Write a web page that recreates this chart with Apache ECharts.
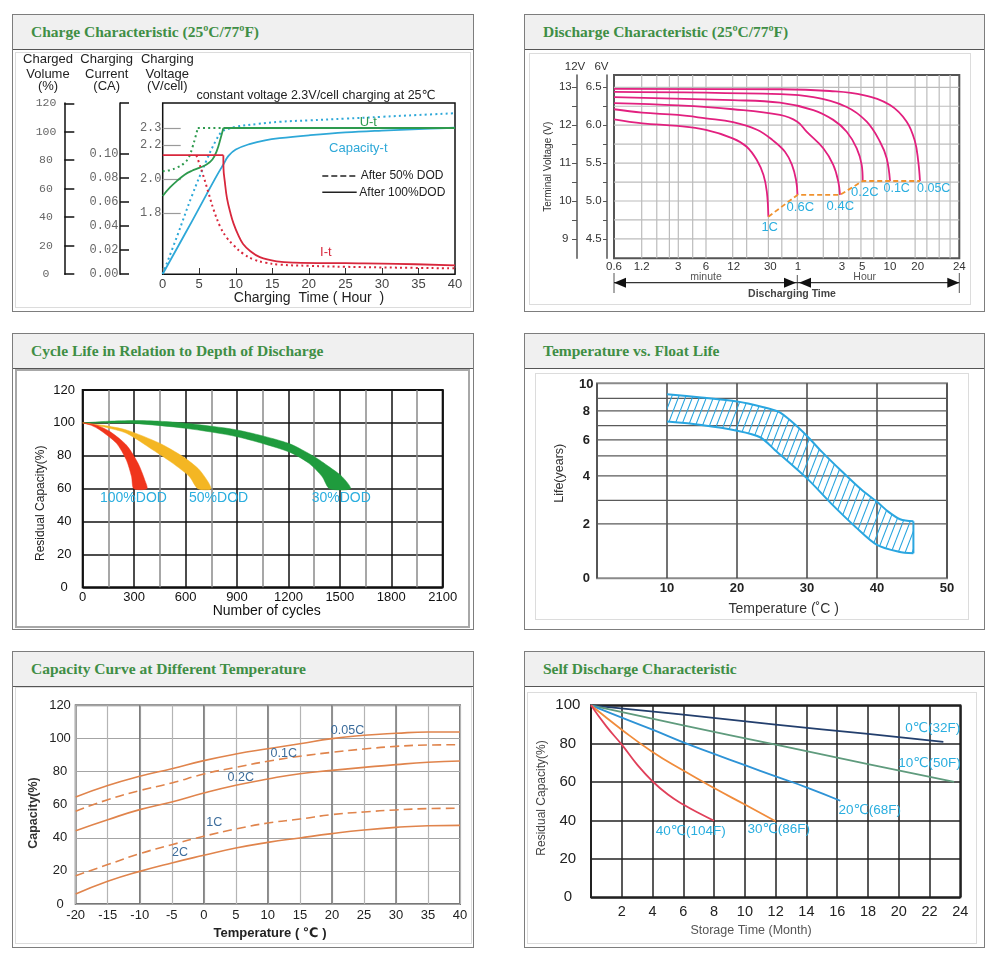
<!DOCTYPE html>
<html><head><meta charset="utf-8">
<script src="https://cdn.jsdelivr.net/npm/echarts@6.0.0/dist/echarts.min.js"></script>
<style>
html,body{margin:0;padding:0;background:#fff;width:1000px;height:963px;overflow:hidden;}
.panel{position:absolute;border:1px solid #7d7d7d;box-sizing:border-box;background:#fff;}
.hdr{position:absolute;left:0;top:0;right:0;height:35px;background:#f0f0f0;border-bottom:1.5px solid #555;box-sizing:border-box;}
.hdr span{position:absolute;left:18px;top:8px;font-family:'Liberation Serif','Times New Roman',serif;font-weight:bold;font-size:15.5px;color:#3f8e45;white-space:nowrap;}
.inner{position:absolute;box-sizing:border-box;border:1px solid #dcdcdc;}
#chart{position:absolute;left:0;top:0;width:1000px;height:963px;z-index:5;}
</style></head><body>
<div class="panel" style="left:12px;top:14px;width:462px;height:298px"><div class="hdr"><span>Charge Characteristic (25ºC/77ºF)</span></div></div>
<div class="panel" style="left:524px;top:14px;width:461px;height:298px"><div class="hdr"><span>Discharge Characteristic (25ºC/77ºF)</span></div></div>
<div class="panel" style="left:12px;top:333px;width:462px;height:297px"><div class="hdr"><span>Cycle Life in Relation to Depth of Discharge</span></div></div>
<div class="panel" style="left:524px;top:333px;width:461px;height:297px"><div class="hdr"><span>Temperature vs. Float Life</span></div></div>
<div class="panel" style="left:12px;top:651px;width:462px;height:297px"><div class="hdr"><span>Capacity Curve at Different Temperature</span></div></div>
<div class="panel" style="left:524px;top:651px;width:461px;height:297px"><div class="hdr"><span>Self Discharge Characteristic</span></div></div>
<div class="inner" style="left:15px;top:52px;width:456px;height:256px"></div>
<div class="inner" style="left:529px;top:53px;width:442px;height:252px"></div>
<div class="inner" style="left:15px;top:369px;width:455px;height:259px;border:2px solid #a8a8a8"></div>
<div class="inner" style="left:535px;top:373px;width:434px;height:247px"></div>
<div class="inner" style="left:15px;top:687px;width:457px;height:257px"></div>
<div class="inner" style="left:527px;top:692px;width:450px;height:252px"></div>
<div id="chart"></div>
<script>
// ================= DATA =================
// Chart 1: Charge characteristic  [hour, value]
const chgUtSolid   = [[0,1.90],[1,1.95],[2,1.99],[3,2.025],[4,2.048],[5,2.065],[6,2.085],[6.8,2.115],[7.4,2.165],[7.9,2.235],[8.3,2.3],[40,2.3]];
const chgUtDotted  = [[0,2.045],[1,2.052],[2,2.068],[3,2.095],[3.6,2.13],[4.1,2.19],[4.5,2.25],[4.8,2.3],[8.3,2.3]];
const chgCapSolid  = [[0,0],[2,18.5],[4,37],[6,56],[7.5,70],[8.3,77],[9,83],[10,87.5],[12,91.5],[14,94],[16,95.5],[20,97.5],[25,99.5],[30,100.8],[35,101.8],[40,102.8]];
const chgCapDotted = [[0,0],[2,27],[4,55],[6,80],[7.3,94],[8.1,100],[9,102],[10,103.5],[13,105.5],[16,107],[20,108],[25,109.2],[30,110.5],[35,111.8],[40,113]];
const chgItSolid   = [[0,0.099],[8.3,0.099],[8.32,0.088],[8.5,0.077],[8.8,0.063],[9.3,0.05],[9.7,0.042],[10.3,0.033],[11,0.025],[12,0.019],[13.3,0.014],[15.6,0.0106],[18,0.0095],[25,0.009],[32,0.0085],[40,0.0072]];
const chgItDotted  = [[4.6,0.099],[4.9,0.094],[5.5,0.083],[6.2,0.069],[7,0.053],[7.9,0.039],[8.8,0.03],[9.7,0.024],[11,0.017],[12.5,0.012],[14,0.0095],[16,0.0078],[20,0.0068],[25,0.006],[32,0.0053],[40,0.0047]];
const chgVoltTicks = [1.8,2.0,2.2,2.3];
const chgCurrTicks = [0,0.02,0.04,0.06,0.08,0.10];
const chgVolTicks  = [0,20,40,60,80,100,120];

// Chart 2: Discharge characteristic  [minutes, V per 6V block]
const dch1C   = [[0.6,6.078],[1.22,6.025],[2.96,5.99],[5.98,5.937],[11.7,5.827],[16.6,5.716],[21.4,5.541],[25.3,5.343],[27.5,5.123],[28.6,4.793]];
const dch06C  = [[0.6,6.21],[1.21,6.165],[2.97,6.135],[5.98,6.09],[11.8,6.04],[21.5,5.94],[32,5.80],[43.3,5.65],[51.5,5.48],[57.1,5.28],[59.3,5.08]];
const dch04C  = [[0.6,6.29],[3,6.26],[11.8,6.21],[38.2,6.135],[59,6.046],[74.4,5.914],[113,5.695],[145,5.475],[164.5,5.255],[171.7,5.08]];
const dch02C  = [[0.6,6.37],[11.7,6.33],[38.2,6.297],[88,6.2],[145,6.07],[203,5.914],[261,5.695],[295.5,5.475],[303,5.264]];
const dch01C  = [[0.6,6.44],[38.2,6.41],[88,6.37],[203,6.24],[335,6.046],[467,5.782],[552,5.563],[600,5.264]];
const dch005C = [[0.6,6.478],[38.2,6.474],[133,6.451],[308,6.398],[600,6.266],[911,6.046],[1123,5.782],[1218,5.518],[1271,5.264]];
const dchCutoff = [[28.6,4.793],[59.3,5.08],[171.7,5.08],[303,5.264],[1271,5.264]];
const dchRateLabels = ['1C','0.6C','0.4C','0.2C','0.1C','0.05C'];
const dchMaxMin = 3400;
const dchTickValues = [0.6,1.2,3,6,12,30,60,180,300,600,1200,3400];
const dchTickLabels = ['0.6','1.2','3','6','12','30','1','3','5','10','20','24'];
const dchGridMin = [1.2,1.75,2.4,3,4.3,6,11.7,16.6,28.6,40,59,113,166,214,290,400,554,1125,1510,2055,2700];
const dchV6Ticks = [4.5,5.0,5.5,6.0,6.5];
const dchV6Minor = [4.5,4.75,5.0,5.25,5.5,5.75,6.0,6.25,6.5];
const dchV12Ticks = [9,10,11,12,13];
const dchV12Minor = [9,9.5,10,10.5,11,11.5,12,12.5,13];

// Chart 3: Cycle life  [cycles, residual %]
const cycRedOuter = [[0,100],[80,98.6],[159,94.7],[255,86.5],[323,75.4],[362,65.3],[375,60]];
const cycRedInner = [[0,100],[50,98.5],[100,95.7],[197,87.6],[255,77.4],[285,67.3],[298,60]];
const cycYelOuter = [[0,100],[120,98.5],[255,95.7],[449,87.6],[584,79.5],[681,71.4],[749,60]];
const cycYelInner = [[0,100],[120,97.6],[255,93.7],[410,83.5],[526,75.4],[623,67.3],[672,60]];
const cycGrnOuter = [[0,100],[150,101],[300,101.4],[450,101],[600,99.8],[900,95.7],[1200,87.6],[1350,79.5],[1436,73.4],[1513,67.3],[1562,60]];
const cycGrnInner = [[0,100],[150,100],[300,99.7],[600,96.7],[900,91.6],[1200,82.5],[1320,75.4],[1397,67.3],[1440,60]];
const cycDodLabels = ['100%DOD','50%DOD','30%DOD'];

// Chart 4: Temperature vs float life  [°C, years]
const floatUpper = [[10,9.28],[14.9,9.05],[20,8.74],[23.5,8.34],[25.9,7.95],[27.8,7.28],[30,6.28],[32.1,5.27],[35,4.22],[37.8,3.43],[40,2.94],[41.6,2.52],[43.3,2.2],[45.2,2.11]];
const floatLower = [[10,7.28],[14.9,7.05],[20,6.65],[23.3,6.19],[25.4,5.38],[30,3.90],[33.5,2.85],[36.9,1.90],[40,1.23],[43.1,0.98],[45.2,0.92]];
const lifeScaleVals = [0,2,3,4,5,6,7,8,9,10];          // the axis of the original is not linear
const lifeScalePos  = [0,163,234,307,367,415,458,502,540,583];
const lifeLabels    = [0,2,4,6,8,10];
const lifeGridVals  = [2,3,4,5,6,7,8,9];

// Chart 5: Capacity vs temperature  [°C] -> %
const capTemps = [-20,-15,-10,-5,0,5,10,15,20,25,30,35,40];
const cap005C = [64.6,71.5,77.1,81.7,86.6,90.6,93.8,96.8,99.9,101.9,103.1,103.9,103.9];
const cap01C  = [56,63,68.5,73.1,78.5,82.5,86.2,89.2,91.6,93.6,95.2,96,96.2];
const cap02C  = [44.3,50.9,57,61.6,67,71.7,75.5,78.7,80.7,82.5,84.2,85.6,86.4];
const cap1C   = [17.1,23.8,30.4,35.8,40.9,45.3,48.9,51.3,54,55.6,56.8,57.6,57.8];
const cap2C   = [6,13.7,19.7,24.8,29.4,33.8,37.2,39.9,42.5,44.7,46.3,47.3,47.5];
const capMajorTemps = [-10,0,10,20,30];
const capRateLabels = ['0.05C','0.1C','0.2C','1C','2C'];

// Chart 6: Self discharge  [month, %]
const sd0C  = [[0,100],[6,95.1],[12,89.9],[18,85.1],[22.9,80.9]];
const sd10C = [[0,100],[6,89.6],[12,79.5],[18,69.4],[23.6,60.1]];
const sd20C = [[0,100],[2,93.6],[4,87.3],[6,80.7],[8,74.7],[10,68.8],[12,63],[14,57.3],[16.2,50.3]];
const sd30C = [[0,100],[2,87.3],[4,75.7],[6,66],[8,56.9],[10,48.3],[12,39.6]];
const sd40C = [[0,100],[1,89],[2,79.5],[3,69.1],[4,60.4],[5,53.5],[6,48.3],[7,43.9],[8,39.9]];
const sdLabels = ['0℃(32F)','10℃(50F)','20℃(68F)','30℃(86F)','40℃(104F)'];

// ================= HELPERS =================
function lifePos(l){
  for (let i=1;i<lifeScaleVals.length;i++){
    if (l <= lifeScaleVals[i]){
      const a=lifeScaleVals[i-1], b=lifeScaleVals[i];
      return lifeScalePos[i-1] + (l-a)/(b-a)*(lifeScalePos[i]-lifeScalePos[i-1]);
    }
  }
  const n=lifeScaleVals.length-1;
  return lifeScalePos[n] + (l-lifeScaleVals[n])*(lifeScalePos[n]-lifeScalePos[n-1])/(lifeScaleVals[n]-lifeScaleVals[n-1]);
}
const lifeLabelPos = lifeLabels.map(lifePos);

function L(xi, yi, data, color, width, dash, smooth){
  return {type:'line', xAxisIndex:xi, yAxisIndex:yi, data:data, showSymbol:false, symbol:'none', silent:true,
    smooth: smooth||false, z:4, animation:false,
    lineStyle:{color:color, width:width, type: dash||'solid', cap:'butt', join:'round'}};
}
function gridLines(xi, yi, xs, ys, xr, yr, color, width){
  return {type:'custom', xAxisIndex:xi, yAxisIndex:yi, z:1, silent:true, animation:false, data:[[xr[0], yr[0]]],
    renderItem:function(params, api){
      const ch=[];
      xs.forEach(function(v){ const a=api.coord([v,yr[0]]), b=api.coord([v,yr[1]]);
        ch.push({type:'line', shape:{x1:a[0],y1:a[1],x2:b[0],y2:b[1]}, style:{stroke:color, lineWidth:width}}); });
      ys.forEach(function(v){ const a=api.coord([xr[0],v]), b=api.coord([xr[1],v]);
        ch.push({type:'line', shape:{x1:a[0],y1:a[1],x2:b[0],y2:b[1]}, style:{stroke:color, lineWidth:width}}); });
      return {type:'group', children:ch};
    }};
}
function bandSeries(xi, yi, outer, inner, fill){
  return {type:'custom', xAxisIndex:xi, yAxisIndex:yi, z:3, silent:true, animation:false, data:[outer[0]],
    renderItem:function(params, api){
      const pts = outer.concat(inner.slice().reverse()).map(function(q){return api.coord(q);});
      return {type:'polygon', shape:{points:pts, smooth:0.25}, style:{fill:fill, stroke:fill, lineWidth:0.5}};
    }};
}
function makeHatch(){
  const c=document.createElement('canvas'); c.width=7; c.height=18;
  const g=c.getContext('2d'); g.strokeStyle='#2aa6e0'; g.lineWidth=1.1; g.beginPath();
  for (let k=-1;k<=1;k++){ g.moveTo(k*7,18); g.lineTo(k*7+7,0); }
  g.stroke(); return c;
}
const hatch = makeHatch();

function T(text,x,y,o){
  o=o||{};
  const al=o.align||'center';
  return {type:'text', x:x, y:y, rotation:o.rot?o.rot*Math.PI/180:0, silent:true, z:100,
    style:{text:text, fill:o.color||'#222',
      font:(o.weight||'normal')+' '+(o.size||12)+"px '"+(o.family||'Liberation Sans')+"', 'DejaVu Sans', sans-serif",
      align:al, verticalAlign:'middle', textAlign:al, textVerticalAlign:'middle'}};
}
function GL(x1,y1,x2,y2,color,w,dash){
  return {type:'line', silent:true, z:100, shape:{x1:x1,y1:y1,x2:x2,y2:y2}, style:{stroke:color, lineWidth:w, lineDash:dash||null}};
}
function TRI(pts,color){ return {type:'polygon', silent:true, z:100, shape:{points:pts}, style:{fill:color}}; }

// ================= COLOURS =================
const cGreen='#2e9a4e', cCyan='#2ea8d8', cRed='#d8273c';
const cPink='#e2207f', cOrange='#f0922e';
const cCap='#e0844c';
const lblCyan='#2aaedf';

// ================= OPTION =================
const noLine={show:false};
const xAxis=[
  {gridIndex:0, type:'value', min:0, max:40, interval:5, axisLine:noLine,
    axisTick:{show:true, inside:true, length:6, lineStyle:{color:'#333', width:1}},
    axisLabel:{color:'#444', fontSize:13, margin:4}, splitLine:{show:false}},
  {gridIndex:1, type:'log', logBase:10, min:0.6, max:dchMaxMin, axisLine:noLine, axisTick:{show:false},
    axisLabel:{customValues:dchTickValues, color:'#333', fontSize:11.5, margin:3,
      formatter:function(v){ let best=0; dchTickValues.forEach(function(t,i){ if (Math.abs(Math.log(t)-Math.log(v)) < Math.abs(Math.log(dchTickValues[best])-Math.log(v))) best=i; }); return dchTickLabels[best]; }},
    splitLine:{show:false}, minorSplitLine:{show:false}, minorTick:{show:false}},
  {gridIndex:2, type:'value', min:0, max:2100, interval:300, axisLine:noLine, axisTick:{show:false},
    axisLabel:{color:'#111', fontSize:13, margin:4, formatter:function(v){return String(v);}},
    splitLine:{show:true, lineStyle:{color:'#111', width:1.5}},
    minorTick:{show:false, splitNumber:2}, minorSplitLine:{show:true, lineStyle:{color:'#8a8a8a', width:1.5}}},
  {gridIndex:3, type:'value', min:0, max:50, interval:10, axisLine:noLine, axisTick:{show:false},
    axisLabel:{color:'#222', fontSize:13, fontWeight:'bold', margin:4, formatter:function(v){return v===0?'':String(v);}},
    splitLine:{show:true, lineStyle:{color:'#444', width:1.5}}},
  {gridIndex:4, type:'value', min:-20, max:40, interval:5, axisLine:noLine, axisTick:{show:false},
    axisLabel:{color:'#222', fontSize:13, margin:5},
    splitLine:{show:true, lineStyle:{color:'#b4b4b4', width:1.2}}},
  {gridIndex:5, type:'value', min:0, max:24, interval:2, axisLine:noLine, axisTick:{show:false},
    axisLabel:{color:'#222', fontSize:14.5, margin:7, formatter:function(v){return v===0?'':String(v);}},
    splitLine:{show:true, lineStyle:{color:'#222', width:1.5}}}
];
const monoLbl = {color:'#666', fontFamily:'Liberation Mono', fontSize:12, align:'center'};
const yAxis=[
  {gridIndex:0, type:'value', min:1.439, max:2.447, position:'left', axisLine:noLine,
    axisTick:{show:true, inside:true, length:18, customValues:chgVoltTicks, lineStyle:{color:'#9a9a9a', width:1.2}},
    axisLabel:Object.assign({customValues:chgVoltTicks, margin:12, formatter:function(v){return v.toFixed(1);}}, monoLbl),
    splitLine:{show:false}},
  {gridIndex:0, type:'value', min:-0.00025, max:0.1425, position:'left', offset:42.7,
    axisLine:{show:true, lineStyle:{color:'#111', width:1.5}},
    axisTick:{show:true, inside:true, length:9, customValues:chgCurrTicks.concat([0.1425]), lineStyle:{color:'#111', width:1.5}},
    axisLabel:Object.assign({customValues:chgCurrTicks, margin:16, formatter:function(v){return v.toFixed(2);}}, monoLbl),
    splitLine:{show:false}},
  {gridIndex:0, type:'value', min:-0.2, max:120.2, position:'left', offset:98.4,
    axisLine:{show:true, lineStyle:{color:'#111', width:1.5}},
    axisTick:{show:true, inside:true, length:10, customValues:chgVolTicks, lineStyle:{color:'#111', width:1.5}},
    axisLabel:Object.assign({customValues:chgVolTicks, margin:18.3}, monoLbl, {fontSize:11.5}),
    splitLine:{show:false}},
  {gridIndex:1, type:'value', min:4.244, max:6.662, position:'left', offset:7,
    axisLine:{show:true, lineStyle:{color:'#555', width:1.5}},
    axisTick:{show:true, length:4, customValues:dchV6Minor, lineStyle:{color:'#555', width:1}},
    axisLabel:{customValues:dchV6Ticks, margin:13.3, align:'center', color:'#333', fontSize:11.5, formatter:function(v){return v.toFixed(1);}},
    splitLine:{show:false}},
  {gridIndex:1, type:'value', min:8.488, max:13.324, position:'left', offset:37,
    axisLine:{show:true, lineStyle:{color:'#555', width:1.5}},
    axisTick:{show:true, length:5, customValues:dchV12Minor, lineStyle:{color:'#555', width:1}},
    axisLabel:{customValues:dchV12Ticks, margin:11.7, align:'center', color:'#333', fontSize:11.5},
    splitLine:{show:false}},
  {gridIndex:2, type:'value', min:0, max:120, interval:20, axisLine:noLine, axisTick:{show:false},
    axisLabel:{align:'center', margin:18.5, fontSize:13, color:'#111'},
    splitLine:{show:true, lineStyle:{color:'#111', width:1.5}}},
  {gridIndex:3, type:'value', min:0, max:585, axisLine:noLine, axisTick:{show:false},
    axisLabel:{customValues:lifeLabelPos, align:'center', margin:10.7, fontSize:13, fontWeight:'bold', color:'#222',
      formatter:function(v){ const i=lifeLabelPos.findIndex(function(p){return Math.abs(p-v)<0.5;}); return i>=0?String(lifeLabels[i]):''; }},
    splitLine:{show:false}},
  {gridIndex:4, type:'value', min:0, max:120, interval:20, axisLine:noLine, axisTick:{show:false},
    axisLabel:{align:'center', margin:15.7, fontSize:13, color:'#222'},
    splitLine:{show:true, lineStyle:{color:'#a4a4a4', width:1.2}}},
  {gridIndex:5, type:'value', min:0, max:100, interval:20, axisLine:noLine, axisTick:{show:false},
    axisLabel:{align:'center', margin:23.2, fontSize:15, color:'#222'},
    splitLine:{show:true, lineStyle:{color:'#222', width:1.5}}}
];

const series=[];
// grid lines drawn through the axes
series.push(gridLines(1,3,dchGridMin,dchV6Minor,[0.6,dchMaxMin],[4.244,6.662],'#bcbcbc',1.2));
series.push(gridLines(3,6,[],lifeGridVals.map(lifePos),[0,50],[0,585],'#5a5a5a',1.3));
series.push(gridLines(4,7,capMajorTemps,[],[-20,40],[0,120],'#707070',1.3));

// chart 1
const utI = chgUtSolid.findIndex(function(p){return p[1]>=2.3;});
const utdI = chgUtDotted.findIndex(function(p){return p[1]>=2.3;});
const dot=[2,3.2];
series.push(L(0,2,chgCapDotted,cCyan,2,dot,0.4));
series.push(L(0,2,chgCapSolid,cCyan,1.8,'solid',0.4));
series.push(L(0,0,chgUtDotted.slice(0,utdI+1),cGreen,2,dot,0.4));
series.push(L(0,0,chgUtDotted.slice(utdI),cGreen,2,dot,false));
series.push(L(0,0,chgUtSolid.slice(0,utI+1),cGreen,1.8,'solid',0.4));
series.push(L(0,0,chgUtSolid.slice(utI),cGreen,1.8,'solid',false));
series.push(L(0,1,chgItDotted,cRed,2,dot,0.4));
series.push(L(0,1,chgItSolid.slice(0,2),cRed,1.8,'solid',false));
series.push(L(0,1,chgItSolid.slice(1),cRed,1.8,'solid',0.4));

// chart 2
[dch1C,dch06C,dch04C,dch02C,dch01C,dch005C].forEach(function(d){ series.push(L(1,3,d,cPink,1.8,'solid',0.4)); });
series.push(L(1,3,dchCutoff,cOrange,1.8,[5,3],false));

// chart 3
series.push(bandSeries(2,5,cycGrnOuter,cycGrnInner,'#1f9b3d'));
series.push(bandSeries(2,5,cycYelOuter,cycYelInner,'#f4b623'));
series.push(bandSeries(2,5,cycRedOuter,cycRedInner,'#f0351c'));

// chart 4
series.push({type:'custom', xAxisIndex:3, yAxisIndex:6, z:3, silent:true, animation:false,
  data:[[floatUpper[0][0], lifePos(floatUpper[0][1])]],
  renderItem:function(params, api){
    const up=floatUpper.map(function(q){return api.coord([q[0], lifePos(q[1])]);});
    const lo=floatLower.map(function(q){return api.coord([q[0], lifePos(q[1])]);});
    const ring=up.concat(lo.slice().reverse());
    return {type:'group', children:[
      {type:'polygon', shape:{points:ring}, style:{fill:{image:hatch, repeat:'repeat'}}},
      {type:'polyline', shape:{points:up, smooth:0.3}, style:{stroke:'#2aa6e0', lineWidth:2, fill:null}},
      {type:'polyline', shape:{points:lo, smooth:0.3}, style:{stroke:'#2aa6e0', lineWidth:2, fill:null}},
      {type:'line', shape:{x1:up[up.length-1][0], y1:up[up.length-1][1], x2:lo[lo.length-1][0], y2:lo[lo.length-1][1]}, style:{stroke:'#2aa6e0', lineWidth:2}}
    ]};
  }});

// chart 5
function capPairs(arr){ return capTemps.map(function(t,i){return [t,arr[i]];}); }
series.push(L(4,7,capPairs(cap005C),cCap,1.6,'solid',0.5));
series.push(L(4,7,capPairs(cap01C),cCap,1.6,[9,5],0.5));
series.push(L(4,7,capPairs(cap02C),cCap,1.6,'solid',0.5));
series.push(L(4,7,capPairs(cap1C),cCap,1.6,[9,5],0.5));
series.push(L(4,7,capPairs(cap2C),cCap,1.6,'solid',0.5));

// chart 6
series.push(L(5,8,sd0C,'#233f6d',1.8,'solid',0.5));
series.push(L(5,8,sd10C,'#5f9b7d',1.8,'solid',0.5));
series.push(L(5,8,sd20C,'#2e93d6',1.8,'solid',0.5));
series.push(L(5,8,sd30C,'#f08c3c',1.8,'solid',0.5));
series.push(L(5,8,sd40C,'#e0405a',1.8,'solid',0.5));

// annotations
const graphic=[
  // chart 1 headings
  T('Charged',48,59.3,{size:13}), T('Volume',48,74,{size:13}), T('(%)',48,86,{size:13}),
  T('Charging',106.7,59.3,{size:13}), T('Current',106.7,74,{size:13}), T('(CA)',106.7,86,{size:13}),
  T('Charging',167.3,59.3,{size:13}), T('Voltage',167.3,74,{size:13}), T('(V/cell)',167.3,86,{size:13}),
  T('constant voltage 2.3V/cell charging at 25℃',316,95.3,{size:12.5}),
  T('U-t',368.3,122.3,{size:13,color:cGreen}),
  T('Capacity-t',358.3,148.3,{size:13,color:cCyan}),
  T('I-t',325.8,252.3,{size:13,color:cRed}),
  GL(322.3,176,356.7,176,'#222',1.5,[6,3]), T('After 50% DOD',360.7,176,{size:12,align:'left'}),
  GL(322.3,192.3,356.7,192.3,'#222',1.5), T('After 100%DOD',359.3,192.3,{size:12,align:'left'}),
  T('Charging  Time ( Hour  )',309,298,{size:14,color:'#222'}),
  // chart 2
  T('12V',575,67,{size:11.5,color:'#333'}), T('6V',601.5,67,{size:11.5,color:'#333'}),
  T('Terminal Voltage (V)',548.7,166.7,{size:10,rot:90,color:'#333'}),
  T(dchRateLabels[0],769.7,227.3,{size:13,color:lblCyan}),
  T(dchRateLabels[1],800.3,207.7,{size:13,color:lblCyan}),
  T(dchRateLabels[2],840.3,206.7,{size:13,color:lblCyan}),
  T(dchRateLabels[3],864.8,192.7,{size:13,color:lblCyan}),
  T(dchRateLabels[4],896.7,188.3,{size:12.5,color:lblCyan}),
  T(dchRateLabels[5],933.7,188.3,{size:12.5,color:lblCyan}),
  GL(614,273,614,293,'#555',1), GL(797.3,275,797.3,290,'#555',1), GL(959.3,273,959.3,293,'#555',1),
  GL(614,282.7,959.3,282.7,'#333',1.2),
  TRI([[614,282.7],[626,277.7],[626,287.7]],'#111'), TRI([[796,282.7],[784,277.7],[784,287.7]],'#111'),
  TRI([[799,282.7],[811,277.7],[811,287.7]],'#111'), TRI([[959.3,282.7],[947.3,277.7],[947.3,287.7]],'#111'),
  T('minute',706,276.7,{size:10.5,color:'#555'}), T('Hour',864.7,276.7,{size:10.5,color:'#555'}),
  T('Discharging Time',792,294,{size:10.5,weight:'bold',color:'#444'}),
  // chart 3
  T('Residual Capacity(%)',40.7,503.3,{size:12,rot:90,color:'#222'}),
  T('Number of cycles',266.7,611,{size:14,color:'#111'}),
  T(cycDodLabels[0],100,497.7,{size:14,align:'left',color:lblCyan}),
  T(cycDodLabels[1],189,497.7,{size:14,align:'left',color:lblCyan}),
  T(cycDodLabels[2],311.7,497.7,{size:14,align:'left',color:lblCyan}),
  // chart 4
  T('Life(years)',559.3,473.3,{size:12.5,rot:90,color:'#333'}),
  T('Temperature (˚C )',783.7,609,{size:14,color:'#333'}),
  // chart 5
  T('Capacity(%)',34,813,{size:12.5,rot:90,weight:'bold',color:'#333'}),
  T('Temperature ( ℃ )',270,933,{size:13,weight:'bold',color:'#222'}),
  T(capRateLabels[0],347.5,730.3,{size:12.5,color:'#3d6d9c'}),
  T(capRateLabels[1],283.8,753.7,{size:12.5,color:'#3d6d9c'}),
  T(capRateLabels[2],240.8,778,{size:12.5,color:'#3d6d9c'}),
  T(capRateLabels[3],214.2,823,{size:12.5,color:'#3d6d9c'}),
  T(capRateLabels[4],180,852.3,{size:12.5,color:'#3d6d9c'}),
  // chart 6
  T('Residual Capacity(%)',541.3,798,{size:12,rot:90,color:'#444'}),
  T('Storage Time (Month)',751,930.7,{size:12.5,color:'#555'}),
  T(sdLabels[0],932.8,728.7,{size:13.5,color:lblCyan}),
  T(sdLabels[1],929.5,763.7,{size:13.5,color:lblCyan}),
  T(sdLabels[2],869.8,810.3,{size:13.5,color:lblCyan}),
  T(sdLabels[3],778.7,829.7,{size:13.5,color:lblCyan}),
  T(sdLabels[4],690.8,831.3,{size:13.5,color:lblCyan})
];

const option={
  animation:false,
  backgroundColor:'transparent',
  textStyle:{fontFamily:"'Liberation Sans', 'DejaVu Sans', sans-serif"},
  grid:[
    {left:162.7, top:103, width:292.3, height:171.3, show:true, borderColor:'#111', borderWidth:1.5, backgroundColor:'transparent'},
    {left:614, top:75, width:345.3, height:183.3, show:true, borderColor:'#555', borderWidth:2, backgroundColor:'transparent'},
    {left:82.7, top:390, width:360, height:197.3, show:true, borderColor:'#111', borderWidth:2, backgroundColor:'transparent'},
    {left:597, top:383.3, width:350, height:195, show:true, borderColor:'#8a8a8a', borderWidth:2, backgroundColor:'transparent'},
    {left:75.7, top:705.3, width:384.3, height:198.7, show:true, borderColor:'#777', borderWidth:2, backgroundColor:'transparent'},
    {left:591, top:705.3, width:369.3, height:192, show:true, borderColor:'#222', borderWidth:2, backgroundColor:'transparent'}
  ],
  xAxis:xAxis, yAxis:yAxis, series:series, graphic:graphic
};
const chart=echarts.init(document.getElementById('chart'));
chart.setOption(option);
</script>
</body></html>
